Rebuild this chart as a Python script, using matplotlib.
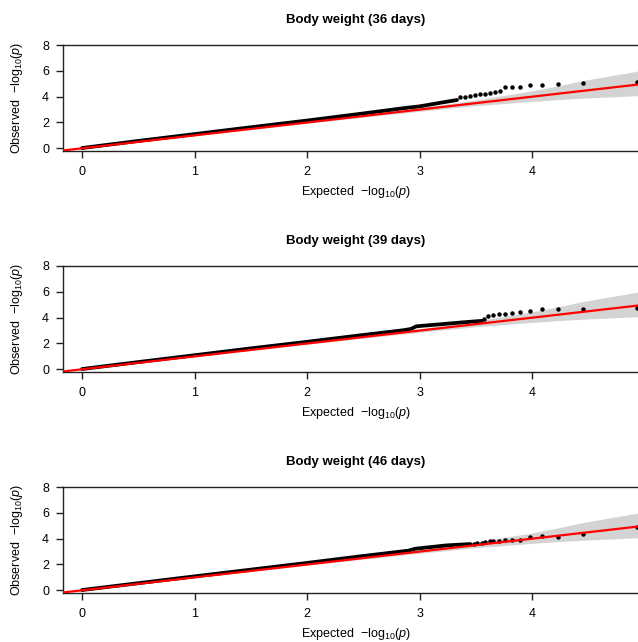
import matplotlib
matplotlib.use("Agg")
import matplotlib.pyplot as plt
import numpy as np

plt.rcParams['font.family'] = ['Liberation Sans', 'DejaVu Sans']
plt.rcParams['mathtext.fontset'] = 'custom'
plt.rcParams['mathtext.rm'] = 'Liberation Sans'
plt.rcParams['mathtext.it'] = 'Liberation Sans:italic'
plt.rcParams['mathtext.default'] = 'regular'

titles = ["Body weight (36 days)", "Body weight (39 days)", "Body weight (46 days)"]

# Dense part of QQ curve (expected, observed)
dense_x = [
    [0.0, 0.5, 1.0, 1.5, 2.0, 2.5, 2.85, 3.0, 3.2, 3.33],
    [0.0, 0.5, 1.0, 1.5, 2.0, 2.5, 2.85, 2.92, 2.97, 3.2, 3.4, 3.55],
    [0.0, 0.5, 1.0, 1.5, 2.0, 2.5, 2.9, 2.96, 3.24, 3.45],
]
dense_y = [
    [0.02, 0.57, 1.1, 1.63, 2.15, 2.7, 3.1, 3.25, 3.55, 3.74],
    [0.02, 0.56, 1.09, 1.62, 2.13, 2.66, 3.02, 3.12, 3.33, 3.5, 3.65, 3.75],
    [0.02, 0.55, 1.08, 1.6, 2.12, 2.66, 3.07, 3.22, 3.48, 3.58],
]
# Tail points (expected, observed)
tail_x = [
    [3.36, 3.40, 3.45, 3.49, 3.535, 3.58, 3.62, 3.67, 3.71, 3.755, 3.82, 3.89, 3.98, 4.085, 4.23, 4.45, 4.93],
    [3.57, 3.61, 3.65, 3.70, 3.755, 3.82, 3.89, 3.98, 4.085, 4.23, 4.45, 4.93],
    [3.48, 3.51, 3.55, 3.58, 3.62, 3.65, 3.70, 3.755, 3.82, 3.89, 3.98, 4.085, 4.23, 4.45, 4.93],
]
tail_y = [
    [3.98, 4.0, 4.05, 4.1, 4.18, 4.24, 4.29, 4.36, 4.44, 4.78, 4.78, 4.78, 4.88, 4.93, 5.01, 5.04, 5.12],
    [3.92, 4.13, 4.21, 4.28, 4.31, 4.36, 4.44, 4.54, 4.65, 4.70, 4.70, 4.78],
    [3.62, 3.64, 3.70, 3.72, 3.80, 3.82, 3.85, 3.88, 3.90, 3.88, 4.13, 4.21, 4.11, 4.34, 4.88],
]
# Confidence band
band_x = [-0.17, 0.0, 1.0, 2.0, 2.5, 3.0, 3.5, 3.98, 4.23, 4.45, 4.95]
band_hi = [-0.17, 0.0, 1.02, 2.06, 2.6, 3.15, 3.75, 4.42, 4.84, 5.25, 6.0]
band_lo = [-0.17, 0.0, 0.98, 1.94, 2.41, 2.87, 3.3, 3.62, 3.77, 3.88, 4.08]

W, H = 638, 642
fig = plt.figure(figsize=(W / 100, H / 100), dpi=100)

left_px, right_px = 63, 638
tops = [45, 266, 487]
ax_h = 106
xlim = (-0.169, 4.938)
ylim = (-0.21, 8.0)

for i in range(3):
    top = tops[i]
    ax = fig.add_axes([left_px / W, 1 - (top + ax_h) / H, (right_px - left_px) / W, ax_h / H])
    ax.fill_between(band_x, band_lo, band_hi, color='#d3d3d3', lw=0, zorder=1)
    ax.plot(dense_x[i], dense_y[i], color='black', lw=2.7, solid_capstyle='round', zorder=2)
    ax.plot(tail_x[i], tail_y[i], 'o', color='black', ms=3.2, mew=0, zorder=3)
    ax.plot(xlim, xlim, color='red', lw=1.6, zorder=4)
    ax.set_xlim(*xlim)
    ax.set_ylim(*ylim)
    ax.set_xticks([0, 1, 2, 3, 4])
    ax.set_yticks([0, 2, 4, 6, 8])
    ax.spines['right'].set_visible(False)
    for s in ['left', 'top', 'bottom']:
        ax.spines[s].set_linewidth(1.0)
        ax.spines[s].set_color('#222222')
    ax.tick_params(axis='both', length=5, width=1.0, color='#222222', labelsize=9, pad=6)
    ax.tick_params(axis='y', pad=5)
    cx = 356 / W
    fig.text(cx, 1 - (top - 25) / H, titles[i], ha='center', va='center', fontsize=9.5, fontweight='bold')
    fig.text(cx, 1 - (top + ax_h + 41) / H, r"Expected  $-$log$_{10}$($\mathit{p}$)", ha='center', va='center', fontsize=9)
    fig.text(17 / W, 1 - (top + 53) / H, r"Observed  $-$log$_{10}$($\mathit{p}$)", ha='center', va='center', fontsize=9, rotation=90)

fig.savefig("out.png", dpi=100)
